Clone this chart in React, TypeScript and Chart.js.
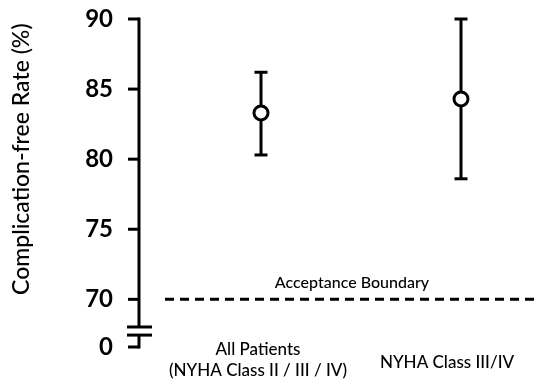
import React, { useEffect, useRef } from "react";
import { Chart, registerables } from "chart.js";
Chart.register(...registerables);

const categories: string[][] = [["All Patients", "(NYHA Class II / III / IV)"], ["NYHA Class III/IV"]];
const rates = [83.3, 84.3];
const upperCI = [86.2, 90.0];
const lowerCI = [80.3, 78.6];
const yTicks = [70, 75, 80, 85, 90];
const brokenBase = 66.6; // axis position that represents "0" below the break
const brokenBaseLabel = "0";
const boundary = 70;
const boundaryLabel = "Acceptance Boundary";
const yTitle = "Complication-free Rate (%)";
const labelShift = [-3, -14];

const FONT = "Lato, 'DejaVu Sans', sans-serif";

const decor = {
  id: "decor",
  beforeDatasetsDraw(chart: any) {
    const { ctx, chartArea, scales } = chart;
    const x = scales.x;
    const y = scales.y;
    const line = (x1: number, y1: number, x2: number, y2: number) => {
      ctx.beginPath();
      ctx.moveTo(x1, y1);
      ctx.lineTo(x2, y2);
      ctx.stroke();
    };
    ctx.save();
    ctx.strokeStyle = "#000";
    ctx.fillStyle = "#000";
    ctx.lineWidth = 3;
    ctx.lineCap = "butt";
    const ax = chartArea.left;
    const yTop = y.getPixelForValue(yTicks[yTicks.length - 1]);
    const y70 = y.getPixelForValue(yTicks[0]);
    const y0 = y.getPixelForValue(brokenBase);
    const gap = y0 - y70;
    const b1 = y70 + gap * 0.58;
    const b2 = y70 + gap * 0.75;
    line(ax, yTop - 1.5, ax, b1);
    line(ax, b2, ax, y0 + 1.5);
    line(ax - 12, b1, ax + 13, b1);
    line(ax - 12, b2, ax + 13, b2);
    // tick marks
    [brokenBase, ...yTicks].forEach((v) => {
      const py = y.getPixelForValue(v);
      line(ax - 11, py, ax, py);
    });

    // acceptance boundary
    const yb = y.getPixelForValue(boundary);
    const xs = ax + 26;
    ctx.setLineDash([9, 6]);
    line(xs, yb, chartArea.right, yb);
    ctx.setLineDash([]);
    ctx.font = `500 16px ${FONT}`;
    ctx.textAlign = "center";
    ctx.textBaseline = "middle";
    ctx.fillText(boundaryLabel, (xs + chartArea.right) / 2, yb - 16);

    // error bars
    rates.forEach((_, i) => {
      const px = x.getPixelForValue(i);
      const pu = y.getPixelForValue(upperCI[i]);
      const pl = y.getPixelForValue(lowerCI[i]);
      line(px, pu, px, pl);
      line(px - 6.5, pu, px + 6.5, pu);
      line(px - 6.5, pl, px + 6.5, pl);
    });

    // category labels
    ctx.font = `500 17px ${FONT}`;
    categories.forEach((lines, i) => {
      const px = x.getPixelForValue(i) + labelShift[i];
      if (lines.length === 1) {
        ctx.fillText(lines[0], px, y0 + 16);
      } else {
        lines.forEach((t, k) => ctx.fillText(t, px, y0 + 3 + k * 21));
      }
    });

    // y title
    ctx.save();
    ctx.font = `500 23px ${FONT}`;
    ctx.translate(22, (yTop + y70) / 2);
    ctx.rotate(-Math.PI / 2);
    ctx.fillText(yTitle, 0, 0);
    ctx.restore();

    ctx.restore();
  },
};

export default function App() {
  const ref = useRef<HTMLCanvasElement>(null);
  useEffect(() => {
    if (!ref.current) return;
    const chart = new Chart(ref.current, {
      type: "scatter",
      data: {
        datasets: [
          {
            data: rates.map((v, i) => ({ x: i, y: v })),
            pointRadius: 7,
            pointBorderWidth: 3,
            pointBackgroundColor: "#fff",
            pointBorderColor: "#000",
            showLine: false,
          },
        ],
      },
      options: {
        responsive: false,
        animation: false,
        layout: { autoPadding: false, padding: { top: 19, bottom: 38, left: 0, right: 0 } },
        plugins: { legend: { display: false }, tooltip: { enabled: false } },
        scales: {
          x: { type: "linear", display: false, min: -0.61, max: 1.39 },
          y: {
            type: "linear",
            min: brokenBase,
            max: yTicks[yTicks.length - 1],
            afterBuildTicks: (s: any) => {
              s.ticks = [brokenBase, ...yTicks].map((v) => ({ value: v }));
            },
            afterFit: (s: any) => {
              s.width = 139;
            },
            border: { display: false },
            grid: { display: false, drawTicks: true, tickLength: 22 },
            ticks: {
              padding: 4,
              color: "#000",
              font: { family: FONT, size: 24, weight: "bold" },
              callback: (v: any) => (v === brokenBase ? brokenBaseLabel : String(v)),
            },
          },
        },
      },
      plugins: [decor],
    });
    return () => chart.destroy();
  }, []);
  return (
    <div style={{ position: "absolute", left: 0, top: 0, width: 539, height: 385 }}>
      <canvas ref={ref} width={539} height={385} />
    </div>
  );
}
